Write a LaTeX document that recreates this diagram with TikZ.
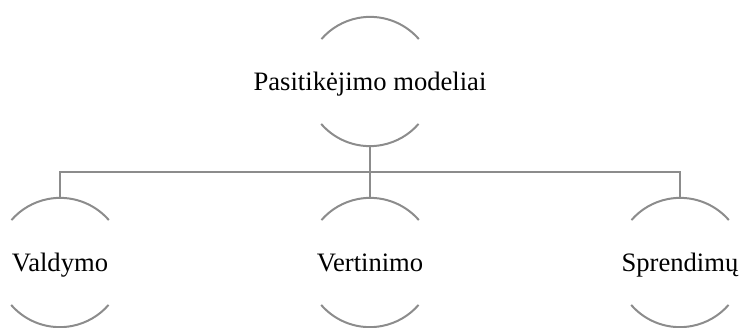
\documentclass[tikz,border=0pt]{standalone}
\usepackage{fontspec}
\setmainfont{Liberation Serif}
\usetikzlibrary{positioning}
\definecolor{linegray}{RGB}{140,140,140}

\begin{document}
\begin{tikzpicture}[
    x=1pt, y=1pt,
    every label/.style={font=\fontsize{26.6}{31}\selectfont, text height=22pt, text depth=4pt, inner sep=0pt},
    model/.style={circle, minimum size=129pt, inner sep=0pt, draw=none},
    rim/.style={draw=linegray, line width=2pt},
    link/.style={draw=linegray, line width=2pt}
]
   \useasboundingbox (0,0) rectangle (741,327);

   % Nodes
   \node[model, label=center:{Pasitikėjimo modeliai}] (root) at (370,245.5) {};
   \node[model, label=center:{Valdymo}] (val) at (60,64.5) {};
   \node[model, label=center:{Vertinimo}] (vert) at (370,64.5) {};
   \node[model, label=center:{Sprendimų}] (spr) at (680,64.5) {};

   % Arcs round each node
   \foreach \n in {root, val, vert, spr} {
      \draw[rim] (\n.41) arc[start angle=41, end angle=139, radius=64.5];
      \draw[rim] (\n.221) arc[start angle=221, end angle=319, radius=64.5];
   }

   % Connectors
   \coordinate (bus) at ([yshift=-26pt]root.south);
   \draw[link] (root.south) -- (vert.north);
   \draw[link] (bus) -| (val.north);
   \draw[link] (bus) -| (spr.north);
\end{tikzpicture}
\end{document}
